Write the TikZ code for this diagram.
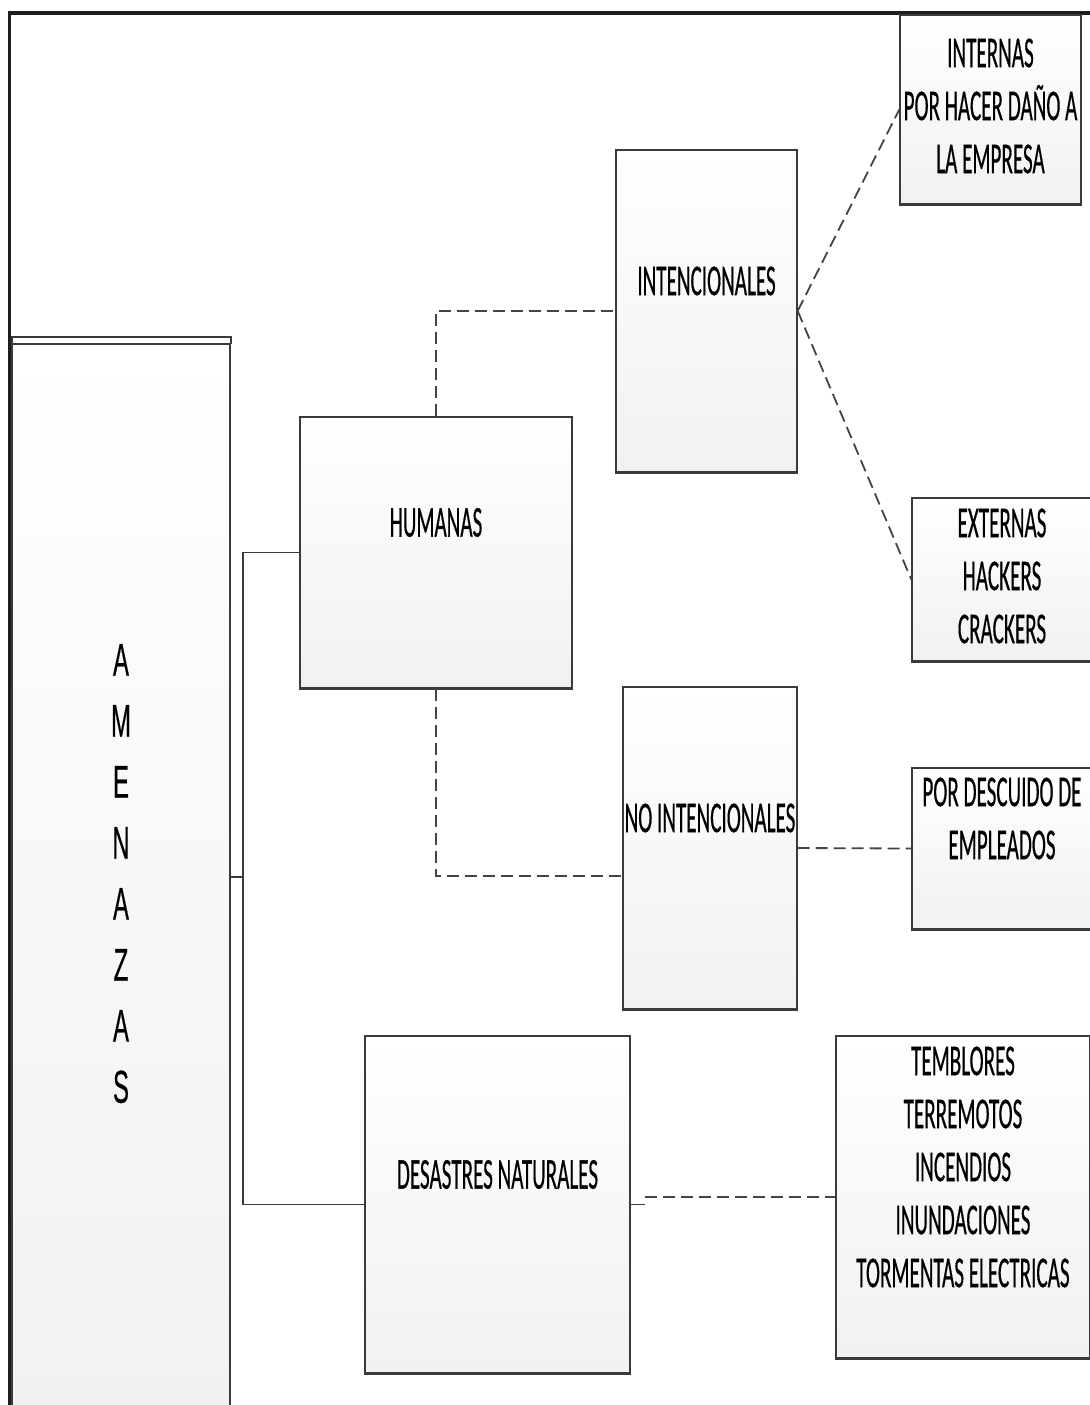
\documentclass[tikz,border=0pt]{standalone}
\usepackage{fontspec}
\usepackage{graphicx}
\newfontfamily\carl[FakeBold=0.7]{Carlito}
\newfontfamily\arl[FakeBold=0.5]{Liberation Sans}
\definecolor{framec}{HTML}{1E1E1E}
\definecolor{boxline}{HTML}{3A3A3A}
\definecolor{dashc}{HTML}{444444}
\definecolor{boxbot}{HTML}{F1F1F1}
% condensed multi-line label for the boxes
\newcommand\lbl[1]{\scalebox{0.48}[1]{\carl\fontsize{22}{26.5}\selectfont\begin{tabular}{@{}c@{}}#1\end{tabular}}}
% vertical title, one letter per row
\newcommand\vtitle[1]{\scalebox{0.52}[1]{\arl\fontsize{23}{30.5}\selectfont\begin{tabular}{@{}c@{}}#1\end{tabular}}}
\begin{document}
\begin{tikzpicture}[x=0.5pt,y=-0.5pt,
  box/.style={draw=boxline, line width=0.7pt, rectangle, inner sep=0pt,
    top color=white, bottom color=boxbot},
  link/.style={draw=boxline, line width=0.6pt},
  dlink/.style={draw=dashc, line width=0.9pt, dash pattern=on 6pt off 3pt}]
\useasboundingbox (0,0) rectangle (1089,1405);
\fill[white] (0,0) rectangle (1089,1405);

% outer frame (continues past the right and bottom edges)
\draw[framec, line width=1.8pt] (1100,13) -- (9.5,13) -- (9.5,1420);

% root box with its doubled top edge
\draw[boxline, line width=0.7pt] (12,344) -- (12,337) -- (231,337) -- (231,344);
\node[box, minimum width=109pt, minimum height=533pt] (amen) at (121,877)
  {\vtitle{A\\M\\E\\N\\A\\Z\\A\\S}};

% second level
\node[box, minimum width=136pt, minimum height=135.5pt] (hum) at (436,552.5)
  {\lbl{HUMANAS\\ \strut}};
\node[box, minimum width=132.5pt, minimum height=168.5pt] (des) at (497.5,1204.5)
  {\lbl{DESASTRES NATURALES\\ \strut}};

% third level
\node[box, minimum width=90.5pt, minimum height=161pt] (inten) at (706.5,311)
  {\lbl{INTENCIONALES\\ \strut}};
\node[box, minimum width=87pt, minimum height=161pt] (nointen) at (710,848)
  {\lbl{NO INTENCIONALES\\ \strut}};

% leaves
\node[box, minimum width=90.5pt, minimum height=94.5pt] (internas) at (990.5,109.5)
  {\lbl{INTERNAS\\POR HACER DAÑO A\\LA EMPRESA}};
\node[box, minimum width=90pt, minimum height=81.5pt] (externas) at (1002,579.5)
  {\lbl{EXTERNAS\\HACKERS\\CRACKERS}};
\node[box, minimum width=90pt, minimum height=80.5pt] (desc) at (1002,848.5)
  {\lbl{POR DESCUIDO DE\\EMPLEADOS\\ \strut}};
\node[box, minimum width=127pt, minimum height=161pt] (temb) at (963,1197)
  {\lbl{TEMBLORES\\TERREMOTOS\\INCENDIOS\\INUNDACIONES\\TORMENTAS ELECTRICAS\\ \strut}};

% heavier lower edges
\foreach \n in {amen,hum,des,inten,nointen,internas,externas,desc,temb}
  \draw[boxline, line width=1.1pt] (\n.south west) -- (\n.south east);

% solid bracket from the root
\coordinate (brk) at (243,0);
\coordinate (nj) at (436,876);
\draw[link] (hum.west) -- (hum.west -| brk) -- (des.west -| brk) -- (des.west);
\draw[link] (amen.east) -- (amen.east -| brk);

% dashed branches
\draw[dlink] (hum.north) |- (inten.west);
\draw[dlink] (hum.south) -- (nj) -- (nj -| nointen.west);
\draw[dlink] (inten.east) -- (internas.west);
\draw[dlink] (inten.east) -- (externas.west);
\draw[dlink] (nointen.east) -- (desc.west);
\draw[link] (des.east) -- ++(7pt,0) coordinate (dj);
\draw[dlink] (dj |- temb.west) -- (temb.west);
\end{tikzpicture}
\end{document}
